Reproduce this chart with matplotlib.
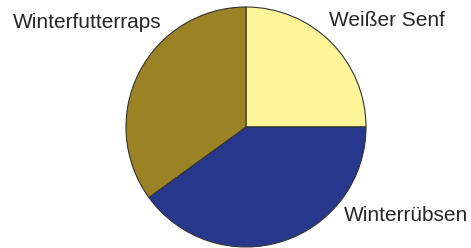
import matplotlib
matplotlib.use("Agg")
import matplotlib.pyplot as plt

labels = ["Weißer Senf", "Winterrübsen", "Winterfutterraps"]
values = [25, 40, 35]
colors = ["#FFF69A", "#27388C", "#9A8225"]

W, H = 471, 248
fig = plt.figure(figsize=(W / 100, H / 100), dpi=100)
ax = fig.add_axes([0, 0, 1, 1])
ax.pie(values, colors=colors, startangle=90, counterclock=False,
       center=(246, H - 127), radius=120, frame=True,
       wedgeprops=dict(edgecolor="#333333", linewidth=0.8))
ax.set_xlim(0, W)
ax.set_ylim(0, H)
ax.set_aspect("equal")
ax.axis("off")

font = dict(family=["Liberation Sans", "DejaVu Sans"], fontsize=15.0, color="#262626")
label_pos = {"Weißer Senf": (329, H - 25.5),
             "Winterrübsen": (344, H - 221),
             "Winterfutterraps": (12.5, H - 28.5)}
for lab in labels:
    x, y = label_pos[lab]
    ax.text(x, y, lab, ha="left", va="baseline", **font)

fig.savefig("out.png", dpi=100)
